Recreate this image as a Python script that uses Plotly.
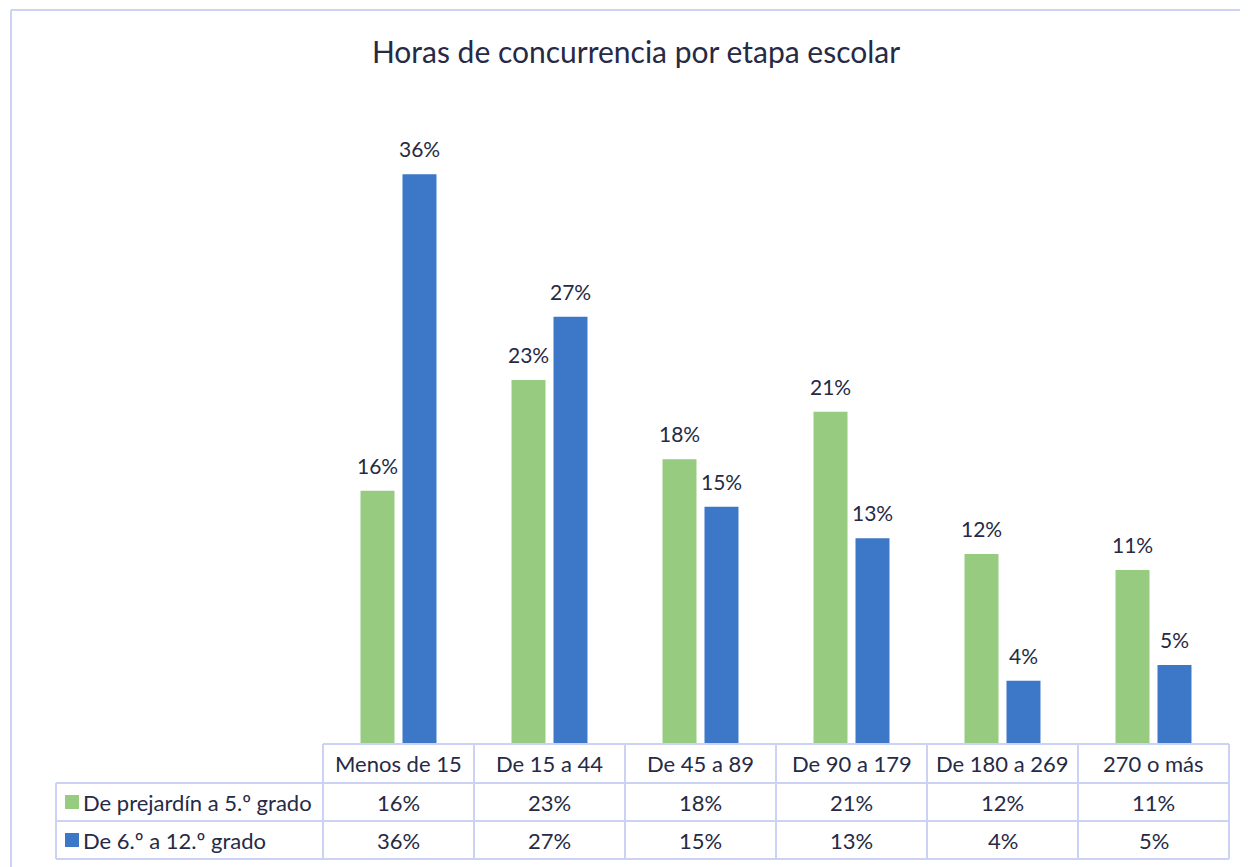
import plotly.graph_objects as go

# Data
categories = ["Menos de 15", "De 15 a 44", "De 45 a 89", "De 90 a 179", "De 180 a 269", "270 o más"]
series_names = ["De prejardín a 5.º grado", "De 6.º a 12.º grado"]
prek_5 = [16, 23, 18, 21, 12, 11]
grade_6_12 = [36, 27, 15, 13, 4, 5]
title_text = "Horas de concurrencia por etapa escolar"

COLORS = ["#97CB80", "#3D78C8"]
TEXT = "#262A45"
GRID = "#CBD2F4"
FONT = "Lato"
FS = 21        # bar labels
FS_TABLE = 22  # table text

# the page puts the figure at (8, 8); all pixel constants below are page pixels
OFF = 8
W, H = 1248 - OFF, 867 - OFF
L, R, T, B = 323 - OFF, 19, 111 - OFF, 123
PW, PH = W - L - R, H - T - B
BASE = 744  # page y of bar baseline


def px_x(p):
    # page pixel -> paper x
    return (p - OFF - L) / PW


def px_y(p):
    # page pixel -> paper y
    return (BASE - p) / PH


fig = go.Figure()
for name, vals, col in zip(series_names, [prek_5, grade_6_12], COLORS):
    fig.add_trace(go.Bar(
        x=categories, y=vals, name=name,
        marker=dict(color=col, line=dict(width=0)),
        hoverinfo="skip",
    ))

annotations = []
# value labels above bars
for vals, shift in [(prek_5, -21), (grade_6_12, 21)]:
    for c, v in zip(categories, vals):
        annotations.append(dict(
            x=c, y=v, xref="x", yref="y", text=f"{v}%", showarrow=False,
            xshift=shift, yanchor="bottom", yshift=11,
            font=dict(family=FONT, size=FS, color=TEXT),
        ))

# data table rows (page pixel edges)
row_edges = [744, 783, 821, 859]
row_centers = [(a + b) / 2 for a, b in zip(row_edges[:-1], row_edges[1:])]

for c in categories:
    annotations.append(dict(
        x=c, y=px_y(row_centers[0]), xref="x", yref="paper", text=c,
        xanchor="center", yanchor="middle", showarrow=False,
        font=dict(family=FONT, size=FS_TABLE, color=TEXT),
    ))
for r, vals in enumerate([prek_5, grade_6_12], start=1):
    for c, v in zip(categories, vals):
        annotations.append(dict(
            x=c, y=px_y(row_centers[r]), xref="x", yref="paper", text=f"{v}%",
            xanchor="center", yanchor="middle", showarrow=False,
            font=dict(family=FONT, size=FS_TABLE, color=TEXT),
        ))
    annotations.append(dict(
        x=px_x(81), y=px_y(row_centers[r]), xref="paper", yref="paper",
        text=series_names[r - 1], xanchor="left", yanchor="middle", showarrow=False,
        font=dict(family=FONT, size=FS_TABLE, color=TEXT),
    ))

shapes = []
line = dict(color=GRID, width=2)
left_edge = px_x(56)
# horizontal table lines
shapes.append(dict(type="line", xref="paper", yref="paper", x0=0, x1=1,
                   y0=px_y(row_edges[0]), y1=px_y(row_edges[0]), line=line))
for e in row_edges[1:]:
    shapes.append(dict(type="line", xref="paper", yref="paper", x0=left_edge, x1=1,
                       y0=px_y(e), y1=px_y(e), line=line))
# vertical table lines
n = len(categories)
for k in range(n + 1):
    shapes.append(dict(type="line", xref="paper", yref="paper", x0=k / n, x1=k / n,
                       y0=px_y(row_edges[0]), y1=px_y(row_edges[-1]), line=line))
shapes.append(dict(type="line", xref="paper", yref="paper", x0=left_edge, x1=left_edge,
                   y0=px_y(row_edges[1]), y1=px_y(row_edges[-1]), line=line))
# legend keys
for r, col in enumerate(COLORS, start=1):
    cy = row_centers[r]
    shapes.append(dict(type="rect", xref="paper", yref="paper",
                       x0=px_x(65), x1=px_x(79), y0=px_y(cy - 7), y1=px_y(cy + 7),
                       fillcolor=col, line=dict(width=0)))
# chart border (top and left visible)
shapes.append(dict(type="line", xref="paper", yref="paper", x0=px_x(11), x1=px_x(1260),
                   y0=px_y(10), y1=px_y(10), line=line))
shapes.append(dict(type="line", xref="paper", yref="paper", x0=px_x(11), x1=px_x(11),
                   y0=px_y(10), y1=px_y(880), line=line))

fig.update_layout(
    width=W, height=H,
    margin=dict(l=L, r=R, t=T, b=B),
    paper_bgcolor="white", plot_bgcolor="white",
    title=dict(text=title_text, x=(636 - OFF) / W, xanchor="center",
               y=1 - (52 - OFF) / H, yanchor="middle",
               font=dict(family=FONT, size=30, color=TEXT)),
    barmode="group", bargap=0.444, bargroupgap=0.19,
    showlegend=False,
    xaxis=dict(showticklabels=False, showline=False, showgrid=False, zeroline=False,
               range=[-0.5, n - 0.5]),
    yaxis=dict(visible=False, range=[0, 40]),
    annotations=annotations, shapes=shapes,
    font=dict(family=FONT, color=TEXT),
)

fig.write_html("out.html")
